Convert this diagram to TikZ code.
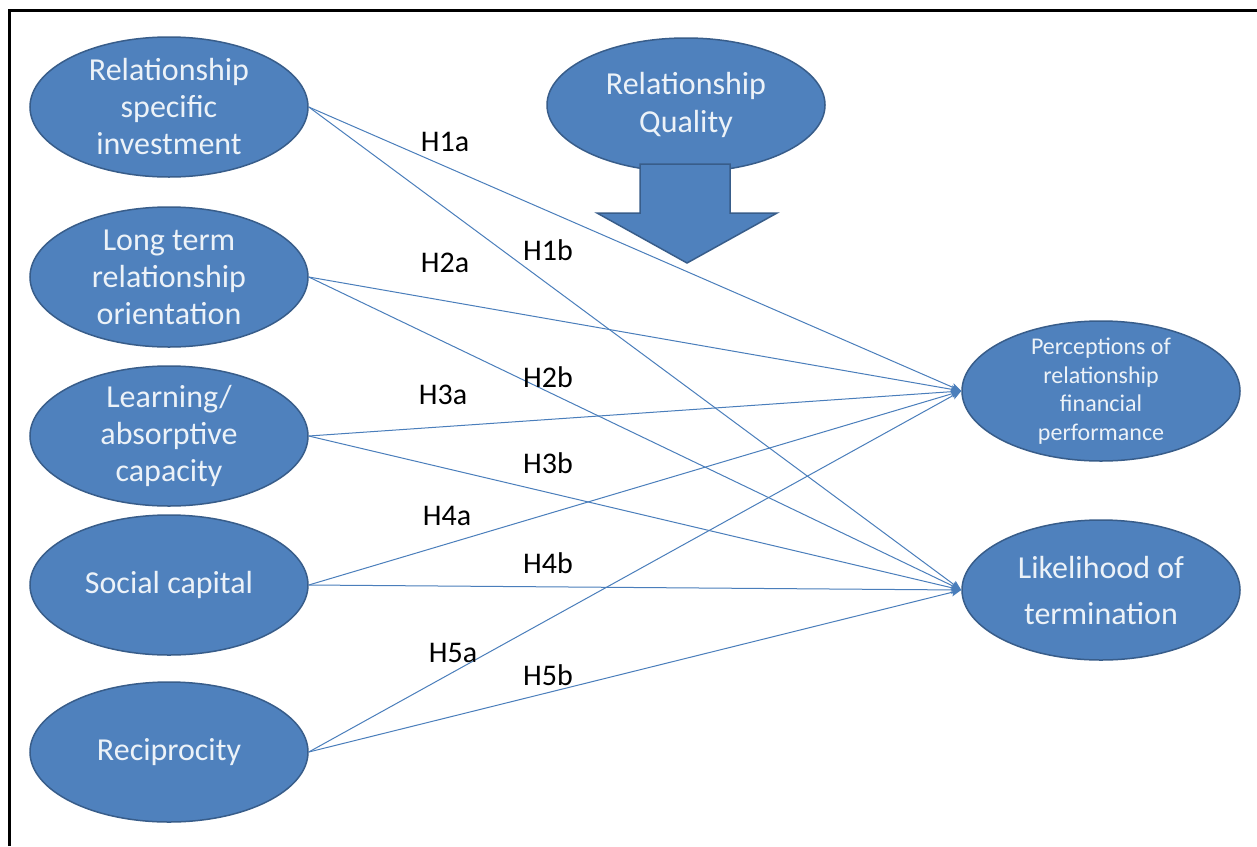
\documentclass[tikz,border=0pt]{standalone}
\usepackage{fontspec}
\setmainfont{Carlito}
\usetikzlibrary{shapes.geometric,arrows.meta}
\definecolor{blobfill}{RGB}{79,129,189}
\definecolor{blobdraw}{RGB}{56,93,138}
\definecolor{blobtext}{RGB}{236,242,248}
\definecolor{linkcol}{RGB}{74,126,187}
\tikzset{
  blob/.style={ellipse, fill=blobfill, draw=blobdraw, line width=1.5pt, minimum width=278pt, minimum height=140pt, inner sep=0pt},
  blobtxt/.style={text=blobtext, align=center, font=\fontsize{32}{37}\selectfont},
  hlab/.style={text=black, font=\fontsize{30}{36}\selectfont, inner sep=0pt},
  link/.style={draw=linkcol, line width=1pt, -{Stealth[length=10pt,width=8pt,inset=2pt]}},
  frameline/.style={draw=black, line width=3pt}
}
\begin{document}
\begin{tikzpicture}[x=1pt,y=-1pt]
\useasboundingbox (0,0) rectangle (1257,846);
\fill[white] (0,0) rectangle (1257,846);
% frame (top and left)
\coordinate (f1) at (9,846);
\coordinate (f2) at (9,10);
\coordinate (f3) at (1257,10);
\draw[frameline] (f1) -- (f2) -- (f3);

% left nodes
\node[blob, label={[blobtxt]center:{Relationship\\specific\\investment}}] (rsi) at (169,107) {};
\node[blob, label={[blobtxt]center:{Long term\\relationship\\orientation}}] (lto) at (169,277) {};
\node[blob, label={[blobtxt]center:{Learning/\\absorptive\\capacity}}] (lac) at (169,436) {};
\node[blob, label={[blobtxt]center:{Social capital}}] (soc) at (169,585) {};
\node[blob, label={[blobtxt]center:{Reciprocity}}] (rec) at (169,752) {};

% right nodes
\node[blob, label={[blobtxt, font=\fontsize{24}{28.5}\selectfont]center:{Perceptions of\\relationship\\financial\\performance}}] (perf) at (1101,391) {};
\node[blob, label={[blobtxt, font=\fontsize{32}{46}\selectfont]center:{Likelihood of\\termination}}] (lik) at (1101,590) {};

% relationship quality
\node[blob, minimum height=134pt, label={[blobtxt, font=\fontsize{32}{38}\selectfont]center:{Relationship\\Quality}}] (rq) at (686,105) {};
\draw[fill=blobfill, draw=blobdraw, line width=1.5pt]
  (640,164) -- (730,164) -- (730,213) -- (777,213) -- (687,263) -- (597,213) -- (640,213) -- cycle;

% connectors
\draw[link] (rsi.east) -- (perf.west);
\draw[link] (rsi.east) -- (lik.west);
\draw[link] (lto.east) -- (perf.west);
\draw[link] (lto.east) -- (lik.west);
\draw[link] (lac.east) -- (perf.west);
\draw[link] (lac.east) -- (lik.west);
\draw[link] (soc.east) -- (perf.west);
\draw[link] (soc.east) -- (lik.west);
\draw[link] (rec.east) -- (perf.west);
\draw[link] (rec.east) -- (lik.west);

% labels
\node[hlab] (h1a) at (445,142) {H1a};
\node[hlab] (h1b) at (548,250) {H1b};
\node[hlab] (h2a) at (445,263) {H2a};
\node[hlab] (h2b) at (548,377) {H2b};
\node[hlab] (h3a) at (443,395) {H3a};
\node[hlab] (h3b) at (548,463) {H3b};
\node[hlab] (h4a) at (447,516) {H4a};
\node[hlab] (h4b) at (548,563) {H4b};
\node[hlab] (h5a) at (453,653) {H5a};
\node[hlab] (h5b) at (548,675) {H5b};
\end{tikzpicture}
\end{document}
